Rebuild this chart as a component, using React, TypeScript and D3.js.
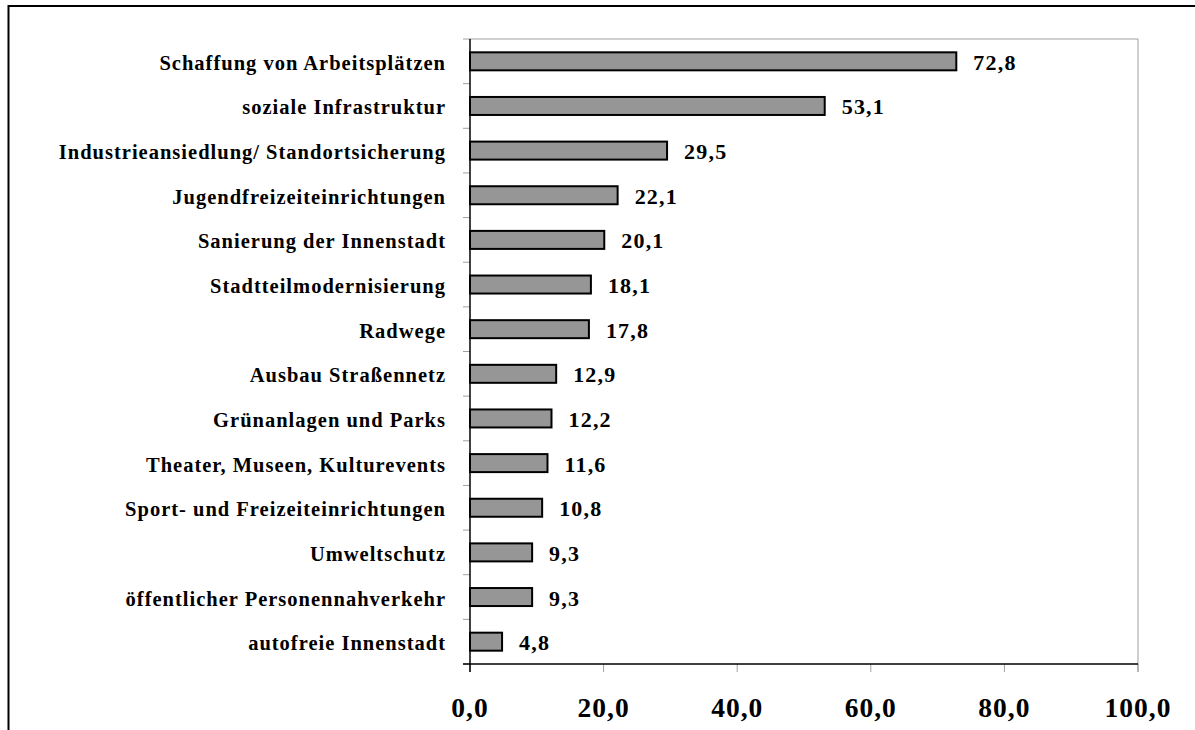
import React from "react";
import * as d3 from "d3";

const categories = [
  "Schaffung von Arbeitsplätzen",
  "soziale Infrastruktur",
  "Industrieansiedlung/ Standortsicherung",
  "Jugendfreizeiteinrichtungen",
  "Sanierung der Innenstadt",
  "Stadtteilmodernisierung",
  "Radwege",
  "Ausbau Straßennetz",
  "Grünanlagen und Parks",
  "Theater, Museen, Kulturevents",
  "Sport- und Freizeiteinrichtungen",
  "Umweltschutz",
  "öffentlicher Personennahverkehr",
  "autofreie Innenstadt",
];
const values = [72.8, 53.1, 29.5, 22.1, 20.1, 18.1, 17.8, 12.9, 12.2, 11.6, 10.8, 9.3, 9.3, 4.8];
const xTicks = [0, 20, 40, 60, 80, 100];

const W = 1195;
const H = 730;
const FONT = "'Liberation Serif', 'Times New Roman', serif";

export default function App() {
  const left = 470, right = 1138, top = 39, bottom = 664;
  const x = d3.scaleLinear().domain([0, 100]).range([left, right]);
  const y = d3.scaleBand().domain(categories).range([top, bottom]).paddingInner(0).paddingOuter(0);
  const bw = y.bandwidth();
  const barH = 18;
  const fmt = (v: number) => v.toFixed(1).replace(".", ",");
  const boundaries = d3.range(categories.length + 1).map((i) => top + i * bw);

  return (
    <svg width={W} height={H} style={{ position: "absolute", left: 0, top: 0, background: "#fff" }}>
      {/* outer frame */}
      <path d={`M8.5,${H + 5} V6 H${W + 5}`} fill="none" stroke="#000" strokeWidth={2} />
      {/* plot border (top & right) */}
      <path d={`M${left},${top} H${right} V${bottom + 8}`} fill="none" stroke="#a0a0a0" strokeWidth={1} />
      {/* y ticks */}
      {boundaries.map((b, i) => (
        <line key={"yt" + i} x1={left - 7} x2={left} y1={b} y2={b} stroke="#a0a0a0" strokeWidth={1} />
      ))}
      {/* x ticks */}
      {xTicks.map((t) => (
        <line key={"xt" + t} x1={x(t)} x2={x(t)} y1={bottom} y2={bottom + 8} stroke="#a0a0a0" strokeWidth={1} />
      ))}
      {/* bars */}
      {categories.map((c, i) => {
        const cy = (y(c) as number) + bw / 2;
        return (
          <g key={c}>
            <rect x={x(0)} y={cy - barH / 2} width={x(values[i]) - x(0)} height={barH} fill="#969696" stroke="#000" strokeWidth={2} />
            <text x={x(values[i]) + 17} y={cy + 8.5} fontFamily={FONT} fontWeight="bold" fontSize={22} letterSpacing={1.2} fill="#000">
              {fmt(values[i])}
            </text>
            <text x={left - 24} y={cy + 8.5} textAnchor="end" fontFamily={FONT} fontWeight="bold" fontSize={20.5} letterSpacing={1} fill="#000">
              {c}
            </text>
          </g>
        );
      })}
      {/* axes */}
      <line x1={left} x2={left} y1={top} y2={bottom + 8} stroke="#000" strokeWidth={1.5} />
      <line x1={left - 7} x2={right} y1={bottom} y2={bottom} stroke="#000" strokeWidth={1.5} />
      {xTicks.map((t) => (
        <text key={"xl" + t} x={x(t)} y={717} textAnchor="middle" fontFamily={FONT} fontWeight="bold" fontSize={27.5} letterSpacing={1} fill="#000">
          {fmt(t)}
        </text>
      ))}
    </svg>
  );
}
